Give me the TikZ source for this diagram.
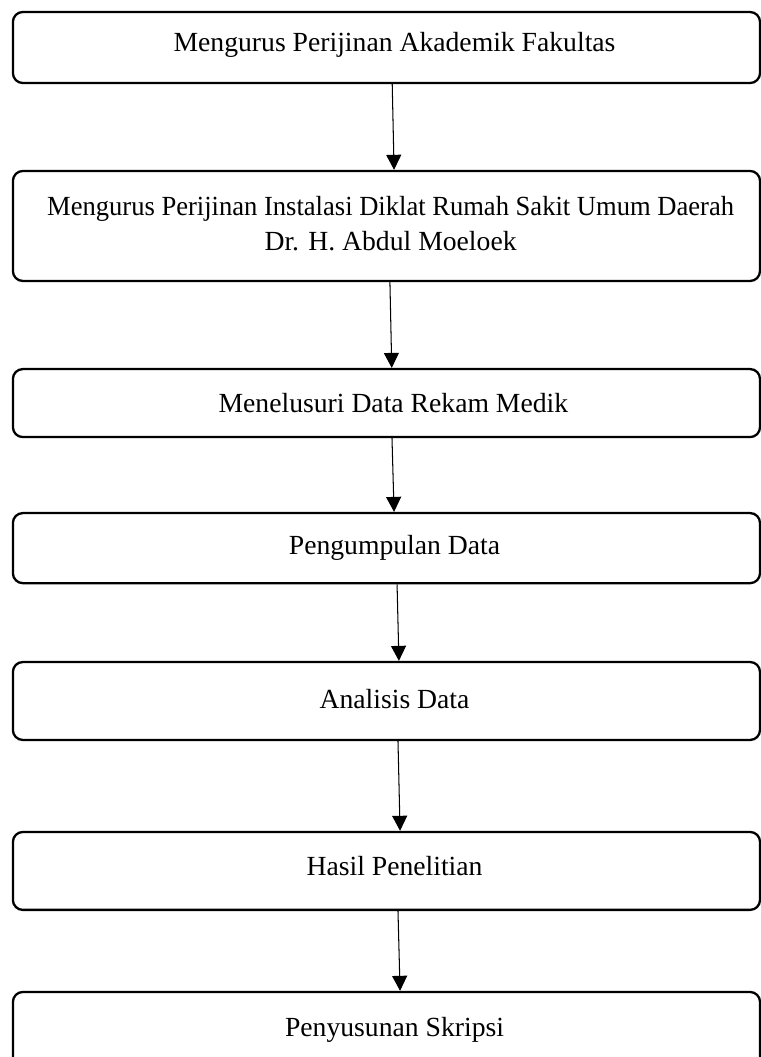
\documentclass[tikz,border=0pt]{standalone}
\usepackage{fontspec}
\setmainfont{Liberation Serif}
\usepackage{tikz}
\usetikzlibrary{shapes,arrows.meta}

\begin{document}
\begin{tikzpicture}[
  flowbox/.style={draw, rectangle, rounded corners=4.3pt, line width=1pt, minimum width=324pt},
  flowtext/.style={align=center, font=\fontsize{12}{15.2}\selectfont},
  flowarrow/.style={-{Triangle[length=6.5pt,width=6.5pt]}, line width=0.45pt}]
\useasboundingbox (0,0) rectangle (330pt,-458.4pt);

\node[xshift=167.6pt,yshift=-20.6pt,flowbox,minimum height=30.8pt] (b1) {};
\node[xshift=167.6pt,yshift=-98pt,flowbox,minimum height=47.7pt] (b2) {};
\node[xshift=167.6pt,yshift=-174.8pt,flowbox,minimum height=29.5pt] (b3) {};
\node[xshift=167.6pt,yshift=-237.7pt,flowbox,minimum height=30.4pt] (b4) {};
\node[xshift=167.6pt,yshift=-304pt,flowbox,minimum height=33.8pt] (b5) {};
\node[xshift=167.6pt,yshift=-377.7pt,flowbox,minimum height=33.8pt] (b6) {};
\node[xshift=167.6pt,yshift=-447.6pt,flowbox,minimum height=34.8pt] (b7) {};

\node[flowtext] (t1) at ([xshift=3.5pt,yshift=1pt]b1.center) {Mengurus Perijinan Akademik Fakultas};
\node[flowtext] (t2) at ([xshift=1.8pt,yshift=1pt]b2.center) {\scalebox{0.96}[1]{Mengurus Perijinan Instalasi Diklat Rumah Sakit Umum Daerah}\\Dr. H. Abdul Moeloek};
\node[flowtext] (t3) at ([xshift=3pt]b3.center) {Menelusuri Data Rekam Medik};
\node[flowtext] (t4) at ([xshift=3.5pt]b4.center) {Pengumpulan Data};
\node[flowtext] (t5) at ([xshift=3.5pt,yshift=1pt]b5.center) {Analisis Data};
\node[flowtext] (t6) at ([xshift=3.5pt,yshift=2pt]b6.center) {Hasil Penelitian};
\node[flowtext] (t7) at ([xshift=3.5pt,yshift=1pt]b7.center) {Penyusunan Skripsi};

\draw[flowarrow] ([xshift=2.5pt]b1.south) -- ([xshift=3.3pt]b2.north);
\draw[flowarrow] ([xshift=1.5pt]b2.south) -- ([xshift=2.3pt]b3.north);
\draw[flowarrow] ([xshift=2.4pt]b3.south) -- ([xshift=3.3pt]b4.north);
\draw[flowarrow] ([xshift=4.6pt]b4.south) -- ([xshift=5.4pt]b5.north);
\draw[flowarrow] ([xshift=5pt]b5.south) -- ([xshift=5.9pt]b6.north);
\draw[flowarrow] ([xshift=5pt]b6.south) -- ([xshift=5.9pt]b7.north);
\end{tikzpicture}
\end{document}
